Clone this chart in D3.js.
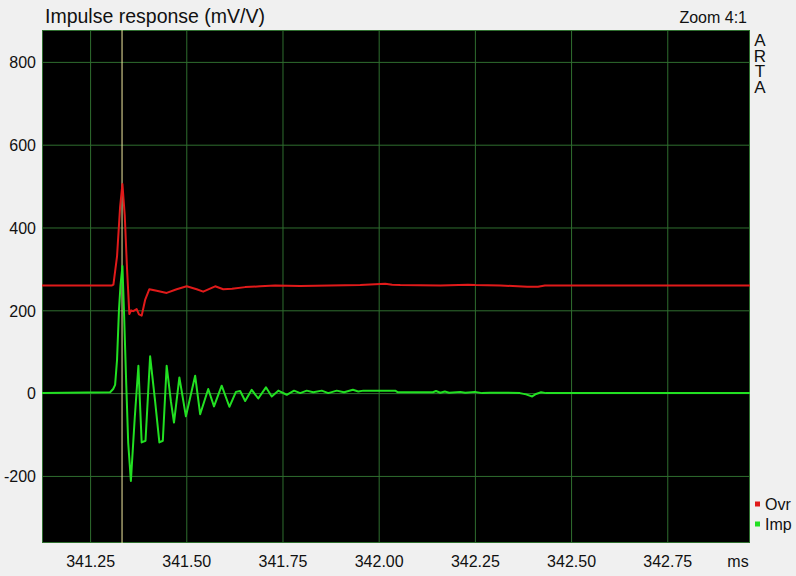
<!DOCTYPE html>
<html>
<head>
<meta charset="utf-8">
<script src="https://cdn.jsdelivr.net/npm/d3@7"></script>
<style>
  html, body { margin: 0; padding: 0; background: #f0f0f0; }
  svg { display: block; }
  text { font-family: "Liberation Sans", Arial, sans-serif; fill: #111; }
</style>
</head>
<body>
<svg id="chart" width="796" height="576"></svg>
<script>
// ---- data ----
const title = "Impulse response (mV/V)";
const zoomLabel = "Zoom 4:1";
const brandLabel = "ARTA";
const xTicks = [341.25, 341.50, 341.75, 342.00, 342.25, 342.50, 342.75];
const yTicks = [-200, 0, 200, 400, 600, 800];
const xDomain = [341.125, 342.965];
const yDomain = [-362, 877];
const cursorTime = 341.333;
const seriesNames = ["Ovr", "Imp"];

const ovrTime = [341.125, 341.307, 341.3106, 341.320, 341.328, 341.334, 341.340, 341.346, 341.352, 341.3566,
  341.362, 341.371, 341.377, 341.384, 341.393, 341.404, 341.423, 341.449, 341.475, 341.501,
  341.527, 341.544, 341.575, 341.596, 341.619, 341.653, 341.692, 341.731, 341.796, 341.874,
  341.952, 342.017, 342.035, 342.056, 342.160, 342.232, 342.250, 342.316, 342.386, 342.414,
  342.432, 342.965];
const ovrValue = [260, 260, 262, 330, 450, 505, 430, 300, 191, 200,
  198, 203, 190, 187, 225, 251, 247, 242, 251, 258,
  251, 245, 258, 251, 252, 256, 258, 260, 259, 260,
  261, 264, 262, 261, 260, 262, 261, 260, 257, 257,
  260, 260];

const impTime = [341.125, 341.302, 341.310, 341.315, 341.320, 341.325, 341.329, 341.334, 341.338, 341.344,
  341.349, 341.356, 341.366, 341.3755, 341.384, 341.394, 341.406, 341.419, 341.430, 341.439,
  341.449, 341.460, 341.468, 341.482, 341.499, 341.523, 341.536, 341.557, 341.572, 341.592,
  341.612, 341.629, 341.640, 341.653, 341.670, 341.687, 341.707, 341.722, 341.739, 341.761,
  341.780, 341.796, 341.813, 341.830, 341.852, 341.869, 341.891, 341.910, 341.933, 341.947,
  341.960, 342.043, 342.050, 342.141, 342.149, 342.160, 342.172, 342.183, 342.212, 342.225,
  342.250, 342.269, 342.289, 342.328, 342.367, 342.383, 342.399, 342.409, 342.422, 342.435,
  342.471, 342.965];
const impValue = [0, 2, 10, 20, 80, 200, 260, 307, 200, 20,
  -120, -212, -60, 66, -119, -115, 89, -20, -119, -115,
  66, -20, -71, 38, -56, 42, -51, 10, -32, 18,
  -33, 3, 5, -19, 8, -13, 14, -8, 6, -4,
  6, 0, 6, 2, 6, 0, 6, 2, 8, 4,
  6, 6, 2, 2, 5, 1, 4, 1, 3, 1,
  3, 0, 1, 1, 0, -3, -8, -2, 2, 0,
  0, 0];

// ---- layout ----
const svg = d3.select("#chart");
const plot = { left: 42, top: 30, right: 750, bottom: 543 };
const gridColor = "#2f6e2f";
const colors = { Ovr: "#e01a1a", Imp: "#22e022" };
const fontFam = '"Liberation Sans", Arial, sans-serif';

const x = d3.scaleLinear().domain(xDomain).range([plot.left, plot.right]);
const y = d3.scaleLinear().domain(yDomain).range([plot.bottom, plot.top]);

svg.append("rect")
  .attr("x", plot.left).attr("y", plot.top)
  .attr("width", plot.right - plot.left).attr("height", plot.bottom - plot.top)
  .attr("fill", "#000");

// grid
const gx = svg.append("g")
  .attr("transform", `translate(0,${plot.bottom})`)
  .call(d3.axisBottom(x).tickValues(xTicks).tickSize(-(plot.bottom - plot.top)).tickFormat(d => d.toFixed(2)));
gx.select(".domain").remove();
gx.selectAll(".tick line").attr("stroke", gridColor).attr("stroke-width", 1);
gx.selectAll(".tick text").attr("y", 24).attr("dy", 0).style("font-size", "16px")
  .style("font-family", fontFam).attr("fill", "#111");

const gy = svg.append("g")
  .attr("transform", `translate(${plot.left},0)`)
  .call(d3.axisLeft(y).tickValues(yTicks).tickSize(-(plot.right - plot.left)).tickFormat(d => String(d)));
gy.select(".domain").remove();
gy.selectAll(".tick line").attr("stroke", gridColor).attr("stroke-width", 1);
gy.selectAll(".tick text").attr("x", -6).attr("dy", "0.36em").style("font-size", "16px")
  .style("font-family", fontFam).attr("fill", "#111");

// border
svg.append("rect")
  .attr("x", plot.left + 0.5).attr("y", plot.top + 0.5)
  .attr("width", plot.right - plot.left - 1).attr("height", plot.bottom - plot.top - 1)
  .attr("fill", "none").attr("stroke", gridColor);

// cursor
svg.append("line")
  .attr("x1", x(cursorTime)).attr("x2", x(cursorTime))
  .attr("y1", plot.top).attr("y2", plot.bottom)
  .attr("stroke", "#f2eaa0").attr("stroke-width", 1);

// lines
const line = d3.line().x(d => x(d[0])).y(d => y(d[1]));
const ovr = ovrTime.map((t, i) => [t, ovrValue[i]]);
const imp = impTime.map((t, i) => [t, impValue[i]]);
svg.append("clipPath").attr("id", "clip").append("rect")
  .attr("x", plot.left).attr("y", plot.top)
  .attr("width", plot.right - plot.left).attr("height", plot.bottom - plot.top);
svg.append("path").datum(ovr).attr("d", line).attr("fill", "none")
  .attr("stroke", colors.Ovr).attr("stroke-width", 2).attr("clip-path", "url(#clip)")
  .attr("stroke-linejoin", "round");
svg.append("path").datum(imp).attr("d", line).attr("fill", "none")
  .attr("stroke", colors.Imp).attr("stroke-width", 2).attr("clip-path", "url(#clip)")
  .attr("stroke-linejoin", "round");

// texts
svg.append("text").attr("x", 45).attr("y", 23).style("font-size", "19.5px").text(title);
svg.append("text").attr("x", 747).attr("y", 23).attr("text-anchor", "end").style("font-size", "16px").text(zoomLabel);
svg.append("text").attr("x", 760).attr("y", 31)
  .style("font-size", "17px")
  .style("writing-mode", "vertical-rl")
  .style("text-orientation", "upright")
  .style("letter-spacing", "-3.5px")
  .text(brandLabel);
svg.append("text").attr("x", 738).attr("y", 567).attr("text-anchor", "middle").style("font-size", "16px").text("ms");

// legend
seriesNames.forEach((n, i) => {
  const cy = 504 + i * 20;
  svg.append("rect").attr("x", 755).attr("y", cy - 2.5).attr("width", 5).attr("height", 5).attr("fill", colors[n]);
  svg.append("text").attr("x", 765).attr("y", cy + 5.5).style("font-size", "16px").text(n);
});
</script>
</body>
</html>
